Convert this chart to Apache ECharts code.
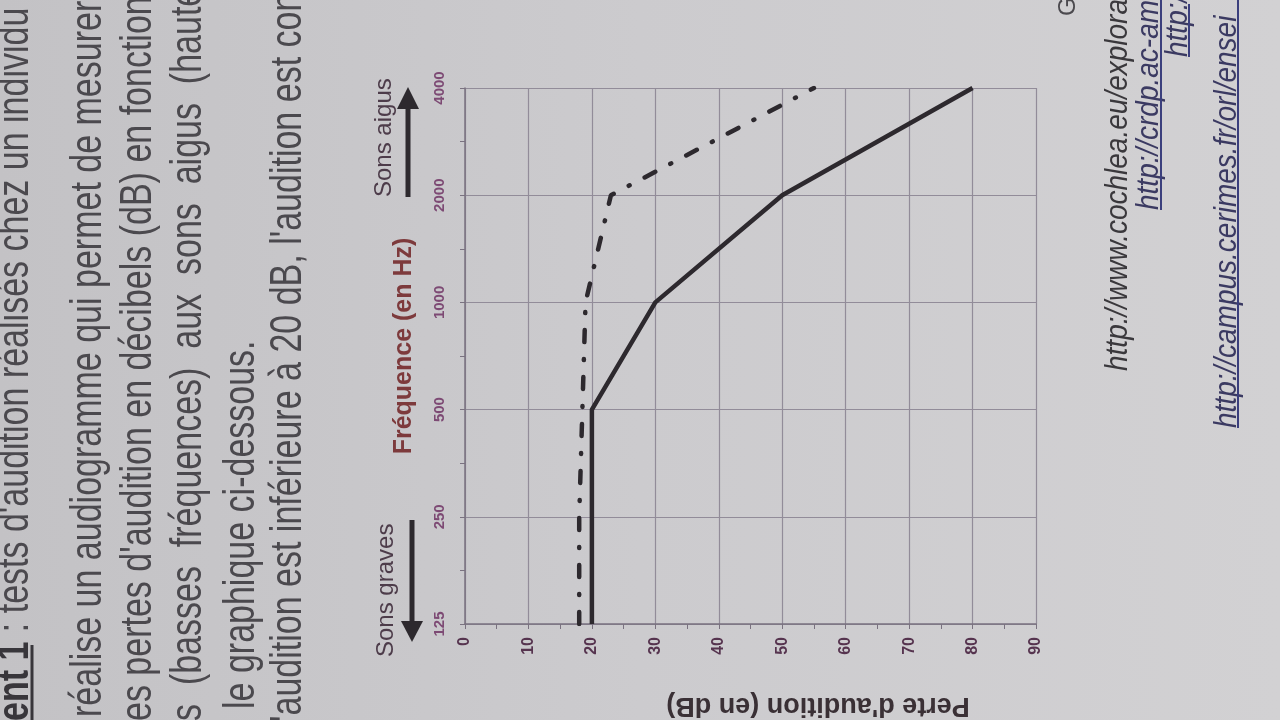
<!DOCTYPE html>
<html>
<head>
<meta charset="utf-8">
<script src="https://cdn.jsdelivr.net/npm/echarts@6/dist/echarts.min.js"></script>
<style>
html,body{margin:0;padding:0;background:#cac9cc;}
#chart{width:1280px;height:720px;}
</style>
</head>
<body>
<div id="chart"></div>
<script>
// ---- chart data ----
const frequencies = ['125', '250', '500', '1000', '2000', '4000'];   // Hz (tick labels)
const solidLoss  = [20, 20, 20, 30, 50, 80];                         // dB, solid curve
const dashedLoss = [18, 18, 18.5, 19, 23, 55];                       // dB, dash-dot curve

// ---- surrounding page text (rotated photo) ----
const docLines = [
  "réalise un audiogramme qui permet de mesurer",
  "es pertes d'audition en décibels (dB) en fonction",
  "s  (basses  fréquences)  aux  sons  aigus  (haute",
  "le graphique ci-dessous.",
  "'audition est inférieure à 20 dB, l'audition est con"
];
const urlLines = [
  "http://www.cochlea.eu/explora",
  "http://crdp.ac-am",
  "http:/",
  "http://campus.cerimes.fr/orl/ensei"
];

const chart = echarts.init(document.getElementById('chart'), null, {renderer: 'canvas'});
const FF = "'Liberation Sans', Arial, sans-serif";
const INK = '#2d292e';
const R90 = Math.PI / 2;

function vtext(x, y, text, o) {
  o = o || {};
  return {
    type: 'text', x: x, y: y, rotation: o.rot != null ? o.rot : R90,
    scaleY: o.sy || 1, z: 10, silent: true,
    style: {
      text: text,
      fontFamily: o.ff || FF,
      fontSize: o.fs || 34,
      fontWeight: o.fw || 'normal',
      fontStyle: o.it ? 'italic' : 'normal',
      fill: o.fill || '#4b494e',
      align: o.align || 'left',
      verticalAlign: 'middle',
      rich: o.rich
    }
  };
}
function vline(x, y1, y2, w, c) {
  return {type: 'line', silent: true, z: 10,
    shape: {x1: x, y1: y1, x2: x, y2: y2},
    style: {stroke: c, lineWidth: w}};
}

const docX = [89, 139, 189, 242, 289];
const docY = [717, 721, 721, 709, 722];
const graphics = [];
graphics.push(vtext(16, 721, "{b|ent 1} : tests d'audition réalisés chez un individu", {
  sy: 1.3, rich: {b: {fontWeight: 'bold', fontSize: 34, fontFamily: FF, fill: '#38363b'}}
}));
graphics.push(vline(32, 721, 645, 3, '#38363b'));
docLines.forEach((t, i) => graphics.push(vtext(docX[i], docY[i], t, {sy: 1.3})));

const urlX = [1118, 1149, 1178, 1227];
const urlY = [371, 210, 57, 428];
urlLines.forEach((t, i) => graphics.push(vtext(urlX[i], urlY[i], t, {
  fs: 28, it: true, sy: 1.15, fill: i === 0 ? '#3a383c' : '#3b3a62'
})));
graphics.push(vline(1161, 210, 0, 2, '#3b3f7d'));
graphics.push(vline(1189, 57, 4, 2, '#3b3f7d'));
graphics.push(vline(1238, 428, 0, 2, '#3b3f7d'));
graphics.push(vtext(1068, 16, 'G', {fs: 24, fill: '#4b494e'}));

// chart annotations
graphics.push(vtext(386, 657, 'Sons graves', {fs: 24, fill: '#4d3c4a'}));
graphics.push(vtext(384, 197, 'Sons aigus', {fs: 24, fill: '#4d3c4a'}));
graphics.push(vtext(404, 346, 'Fréquence (en Hz)', {fs: 25, fw: 'bold', fill: '#7d3a3c', align: 'center'}));
graphics.push(vtext(818, 705, "Perte d'audition (en dB)", {fs: 27, fw: 'bold', fill: '#3a3035', align: 'center', rot: Math.PI}));
// arrows
graphics.push({type: 'line', silent: true, shape: {x1: 412, y1: 520, x2: 412, y2: 626}, style: {stroke: INK, lineWidth: 5}});
graphics.push({type: 'polygon', silent: true, shape: {points: [[401, 621], [423, 621], [412, 642]]}, style: {fill: INK}});
graphics.push({type: 'line', silent: true, shape: {x1: 408, y1: 197, x2: 408, y2: 104}, style: {stroke: INK, lineWidth: 5}});
graphics.push({type: 'polygon', silent: true, shape: {points: [[397, 109], [419, 109], [408, 87]]}, style: {fill: INK}});

const gridColor = '#928c99';
const axisColor = '#7a7280';

chart.setOption({
  animation: false,
  backgroundColor: {
    type: 'linear', x: 0, y: 0, x2: 1, y2: 0,
    colorStops: [{offset: 0, color: '#c3c2c5'}, {offset: 0.5, color: '#cccbce'}, {offset: 1, color: '#d2d1d3'}]
  },
  grid: {left: 465, right: 244, top: 88, bottom: 96, containLabel: false},
  xAxis: {
    type: 'value', min: 0, max: 90, interval: 10, position: 'bottom',
    axisLine: {show: true, lineStyle: {color: axisColor, width: 1.5}},
    axisTick: {show: true, length: 5, lineStyle: {color: axisColor}},
    minorTick: {show: true, splitNumber: 2, length: 5, lineStyle: {color: axisColor}},
    splitLine: {show: true, lineStyle: {color: gridColor, width: 1.2}},
    axisLabel: {rotate: 90, margin: 13, color: '#56344f', fontSize: 16, fontWeight: 'bold', fontFamily: FF}
  },
  yAxis: {
    type: 'value', min: 0, max: 5, interval: 1,
    axisLine: {show: true, lineStyle: {color: axisColor, width: 1.5}},
    axisTick: {show: true, length: 5, lineStyle: {color: axisColor}},
    minorTick: {show: true, splitNumber: 2, length: 5, lineStyle: {color: axisColor}},
    splitLine: {show: true, lineStyle: {color: gridColor, width: 1.2}},
    axisLabel: {
      rotate: 90, margin: 18, color: '#7d4a74', fontSize: 15, fontWeight: 'bold', fontFamily: FF,
      formatter: v => (frequencies[v] !== undefined ? frequencies[v] : '')
    }
  },
  series: [
    {
      name: 'Audition 1', type: 'line', symbol: 'none', z: 3,
      data: solidLoss.map((v, i) => [v, i]),
      lineStyle: {color: INK, width: 4.5}
    },
    {
      name: 'Audition 2', type: 'line', symbol: 'none', z: 3,
      data: dashedLoss.map((v, i) => [v, i]),
      lineStyle: {color: INK, width: 4.5, type: [12, 17, 1, 17], cap: 'round'}
    }
  ],
  graphic: {elements: graphics}
});
</script>
</body>
</html>
